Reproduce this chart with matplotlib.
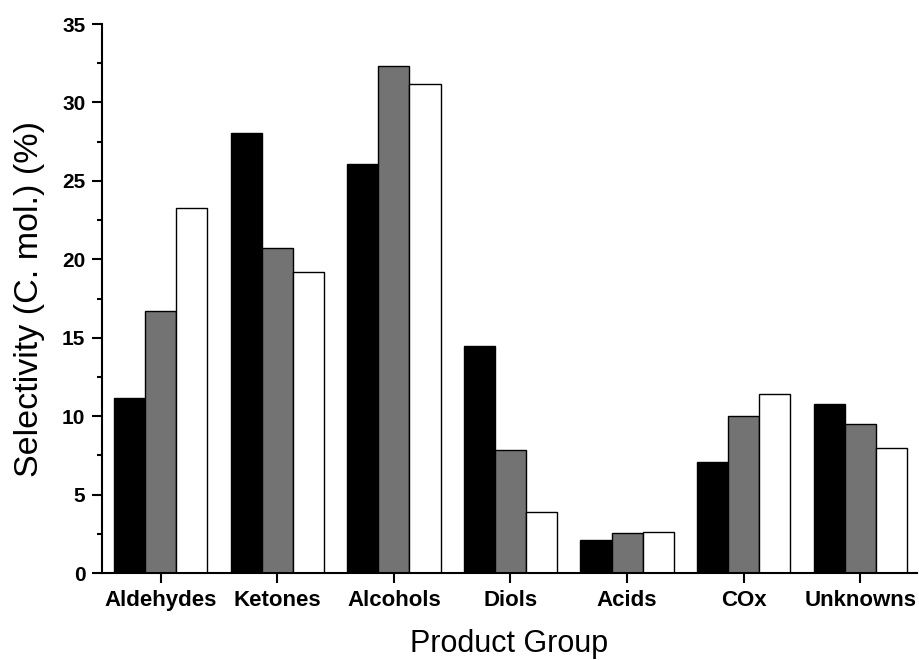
import numpy as np
import matplotlib
matplotlib.use("Agg")
from matplotlib import pyplot as plt
from matplotlib.ticker import MultipleLocator

# product groups and selectivity values (three conditions)
groups = ["Aldehydes", "Ketones", "Alcohols", "Diols", "Acids", "COx", "Unknowns"]
series_black = [11.13, 28.07, 26.10, 14.49, 2.12, 7.09, 10.79]
series_gray = [16.68, 20.70, 32.34, 7.84, 2.56, 9.98, 9.50]
series_white = [23.30, 19.19, 31.19, 3.87, 2.63, 11.42, 7.96]

plt.rcParams['font.family'] = ['Liberation Sans', 'DejaVu Sans']

fig = plt.figure(figsize=(9.19, 6.6), dpi=100)
ax = fig.add_axes([0.111, 0.1318, 0.8868, 0.8318])

x = np.arange(len(groups))
w = 0.8 / 3
ax.bar(x - w, series_black, w, color="black", edgecolor="black", linewidth=1)
ax.bar(x, series_gray, w, color="#737373", edgecolor="black", linewidth=1)
ax.bar(x + w, series_white, w, color="white", edgecolor="black", linewidth=1)

ax.set_xlim(-0.503, 6.486)
ax.set_ylim(0, 35)
ax.yaxis.set_major_locator(MultipleLocator(5))
ax.yaxis.set_minor_locator(MultipleLocator(2.5))
ax.set_xticks(x)
ax.set_xticklabels(groups, fontweight="bold", fontsize=16)

for lab in ax.get_yticklabels():
    lab.set_fontweight("bold")
    lab.set_fontsize(15)

ax.spines["top"].set_visible(False)
ax.spines["right"].set_visible(False)
ax.spines["left"].set_linewidth(1.5)
ax.spines["bottom"].set_linewidth(1.5)
ax.tick_params(axis="both", which="major", direction="out", length=7, width=1.5)
ax.tick_params(axis="y", which="minor", direction="out", length=3.5, width=1.5)
ax.tick_params(axis="x", pad=5)
ax.tick_params(axis="y", pad=5)

ax.set_ylabel("Selectivity (C. mol.) (%)", fontsize=24.5, labelpad=12)
ax.set_xlabel("Product Group", fontsize=22, labelpad=13)

fig.savefig("out.png", dpi=100)
